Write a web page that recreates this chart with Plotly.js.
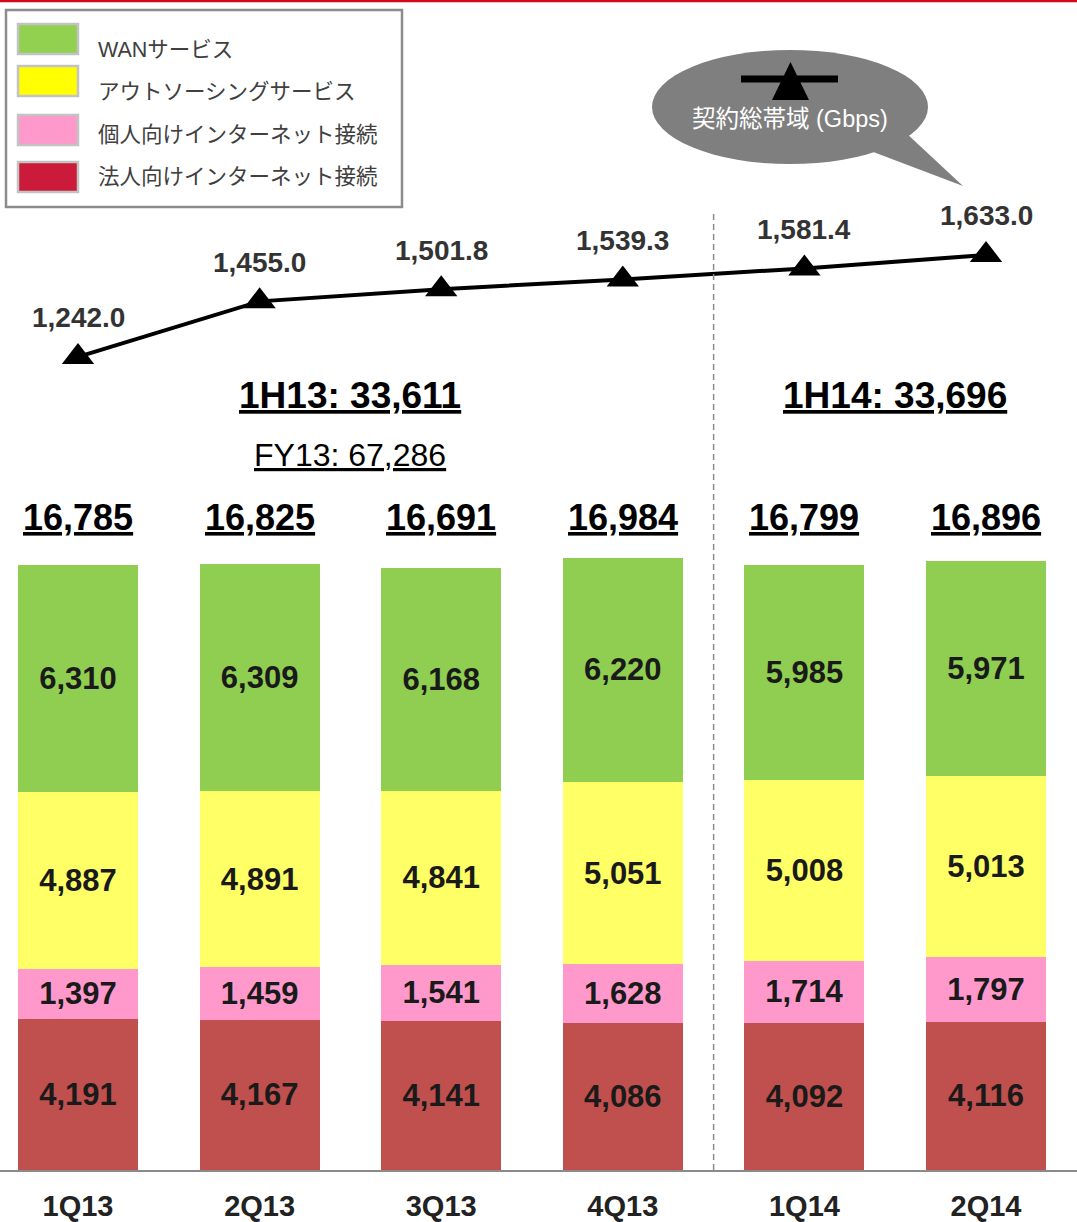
<!DOCTYPE html>
<html>
<head>
<meta charset="utf-8">
<script src="https://cdn.plot.ly/plotly-3.0.1.min.js"></script>
<style>
  html, body { margin: 0; padding: 0; background: #ffffff; }
  #chart { width: 1077px; height: 1222px; }
</style>
</head>
<body>
<div id="chart"></div>
<script>
// ---- data ----
const categories = ['1Q13', '2Q13', '3Q13', '4Q13', '1Q14', '2Q14'];
const corporateInternet = [4191, 4167, 4141, 4086, 4092, 4116];
const personalInternet = [1397, 1459, 1541, 1628, 1714, 1797];
const outsourcing = [4887, 4891, 4841, 5051, 5008, 5013];
const wanService = [6310, 6309, 6168, 6220, 5985, 5971];
const quarterTotals = [16785, 16825, 16691, 16984, 16799, 16896];
const bandwidth = [1242.0, 1455.0, 1501.8, 1539.3, 1581.4, 1633.0];
const seriesNames = ['WANサービス', 'アウトソーシングサービス', '個人向けインターネット接続', '法人向けインターネット接続'];
const lineName = '契約総帯域 (Gbps)';
const halfYearLabels = ['1H13: 33,611', '1H14: 33,696'];
const fiscalYearLabel = 'FY13: 67,286';

// ---- styling ----
const W = 1077, H = 1222, B = 52;
const plotH = H - B;
const py = p => (plotH - p) / plotH;   // pixel row -> paper y
const px = p => p / W;                 // pixel col -> paper x

const barColors = { wan: '#8fce50', out: '#ffff66', per: '#ff99cc', cor: '#c0504d' };
const legendColors = ['#92d050', '#ffff00', '#ff99cc', '#cc1b3a'];
const latin = 'Liberation Sans, Arial, sans-serif';
const jp = 'Liberation Sans, Noto Sans CJK JP, sans-serif';

function barTrace(name, vals, color) {
  return {
    type: 'bar', name: name, x: categories, y: vals,
    marker: { color: color, line: { width: 0 } },
    texttemplate: '%{y:,}', textposition: 'inside', insidetextanchor: 'middle',
    textangle: 0, constraintext: 'none',
    textfont: { family: latin, size: 31, color: '#1a1a1a', weight: 'bold' },
    showlegend: false, hoverinfo: 'skip'
  };
}

const traces = [
  barTrace(seriesNames[3], corporateInternet, barColors.cor),
  barTrace(seriesNames[2], personalInternet, barColors.per),
  barTrace(seriesNames[1], outsourcing, barColors.out),
  barTrace(seriesNames[0], wanService, barColors.wan),
  {
    type: 'scatter', mode: 'lines+markers', name: lineName,
    x: categories, y: bandwidth, yaxis: 'y2',
    line: { color: '#000000', width: 4 },
    marker: { symbol: 'triangle-up', size: 28, color: '#000000' },
    showlegend: false, hoverinfo: 'skip'
  }
];

const annotations = [];
categories.forEach((c, i) => {
  annotations.push({
    x: c, xref: 'x', y: py(517), yref: 'paper', yanchor: 'middle', xanchor: 'center',
    text: '<b><u>' + quarterTotals[i].toLocaleString('en-US') + '</u></b>',
    showarrow: false, font: { family: latin, size: 36, color: '#000000' }
  });
  annotations.push({
    x: c, xref: 'x', y: bandwidth[i], yref: 'y2', yshift: 39, xanchor: 'center',
    text: '<b>' + bandwidth[i].toLocaleString('en-US', { minimumFractionDigits: 1, maximumFractionDigits: 1 }) + '</b>',
    showarrow: false, font: { family: latin, size: 28, color: '#333333' }
  });
});
annotations.push({ x: 1.5, xref: 'x', xanchor: 'center', y: py(395), yref: 'paper', yanchor: 'middle',
  text: '<b><u>' + halfYearLabels[0] + '</u></b>', showarrow: false,
  font: { family: latin, size: 37, color: '#000000' } });
annotations.push({ x: 4.5, xref: 'x', xanchor: 'center', y: py(395), yref: 'paper', yanchor: 'middle',
  text: '<b><u>' + halfYearLabels[1] + '</u></b>', showarrow: false,
  font: { family: latin, size: 37, color: '#000000' } });
annotations.push({ x: 1.5, xref: 'x', xanchor: 'center', y: py(455), yref: 'paper', yanchor: 'middle',
  text: '<u>' + fiscalYearLabel + '</u>', showarrow: false,
  font: { family: latin, size: 32, color: '#000000' } });

// legend (custom)
const legendRows = [39, 81, 130, 177];
const legendText = [50, 92, 135, 177];
const shapes = [];
shapes.push({ type: 'rect', xref: 'paper', yref: 'paper',
  x0: px(6), x1: px(402), y0: py(10), y1: py(207),
  line: { color: '#8c8c8c', width: 2.5 }, fillcolor: '#ffffff' });
seriesNames.forEach((n, i) => {
  const cy = legendRows[i];
  shapes.push({ type: 'rect', xref: 'paper', yref: 'paper',
    x0: px(18), x1: px(78), y0: py(cy - 15), y1: py(cy + 15),
    line: { color: '#c3c3c3', width: 2.5 }, fillcolor: legendColors[i] });
  annotations.push({ x: px(96), xref: 'paper', xanchor: 'left', y: py(legendText[i]), yref: 'paper', yanchor: 'middle',
    text: n, showarrow: false, font: { family: jp, size: 21.5, color: '#404040' } });
});

// callout bubble for the line series
shapes.push({ type: 'path', xref: 'paper', yref: 'paper',
  path: 'M ' + px(868) + ' ' + py(150) + ' L ' + px(963) + ' ' + py(186) + ' L ' + px(905) + ' ' + py(132) + ' Z',
  fillcolor: '#7f7f7f', line: { width: 0 } });
shapes.push({ type: 'circle', xref: 'paper', yref: 'paper',
  x0: px(652), x1: px(928), y0: py(164), y1: py(50),
  fillcolor: '#7f7f7f', line: { width: 0 } });
shapes.push({ type: 'line', xref: 'paper', yref: 'paper',
  x0: px(741), x1: px(838), y0: py(79), y1: py(79),
  line: { color: '#000000', width: 7 } });
shapes.push({ type: 'path', xref: 'paper', yref: 'paper',
  path: 'M ' + px(772) + ' ' + py(100) + ' L ' + px(809) + ' ' + py(100) + ' L ' + px(790.5) + ' ' + py(62) + ' Z',
  fillcolor: '#000000', line: { width: 0 } });
annotations.push({ x: px(790), xref: 'paper', xanchor: 'center', y: py(119), yref: 'paper', yanchor: 'middle',
  text: lineName, showarrow: false, font: { family: jp, size: 23.5, color: '#ffffff' } });

// separators
shapes.push({ type: 'line', xref: 'x', yref: 'paper', x0: 3.5, x1: 3.5, y0: 0, y1: py(210),
  line: { color: '#8a8a8a', width: 1.5, dash: '6px,4px' } });
shapes.push({ type: 'line', xref: 'paper', yref: 'paper', x0: 0, x1: 1, y0: py(1), y1: py(1),
  line: { color: '#d2091e', width: 2.5 } });

const layout = {
  width: W, height: H,
  margin: { l: 0, r: 0, t: 0, b: B, pad: 0 },
  paper_bgcolor: '#ffffff', plot_bgcolor: '#ffffff',
  barmode: 'stack', bargap: 0.34,
  showlegend: false, hovermode: false,
  xaxis: {
    type: 'category', range: [-0.4295, 5.501], fixedrange: true,
    showgrid: false, zeroline: false,
    showline: true, linecolor: '#8a8a8a', linewidth: 2,
    ticks: '', ticklabelstandoff: 9,
    tickfont: { family: latin, size: 29, color: '#222222', weight: 'bold' }
  },
  yaxis: { range: [0, 32464], visible: false, fixedrange: true },
  yaxis2: { range: [-1874, 2610], overlaying: 'y', visible: false, fixedrange: true },
  annotations: annotations,
  shapes: shapes
};

Plotly.newPlot('chart', traces, layout, { displayModeBar: false, staticPlot: true });
</script>
</body>
</html>
